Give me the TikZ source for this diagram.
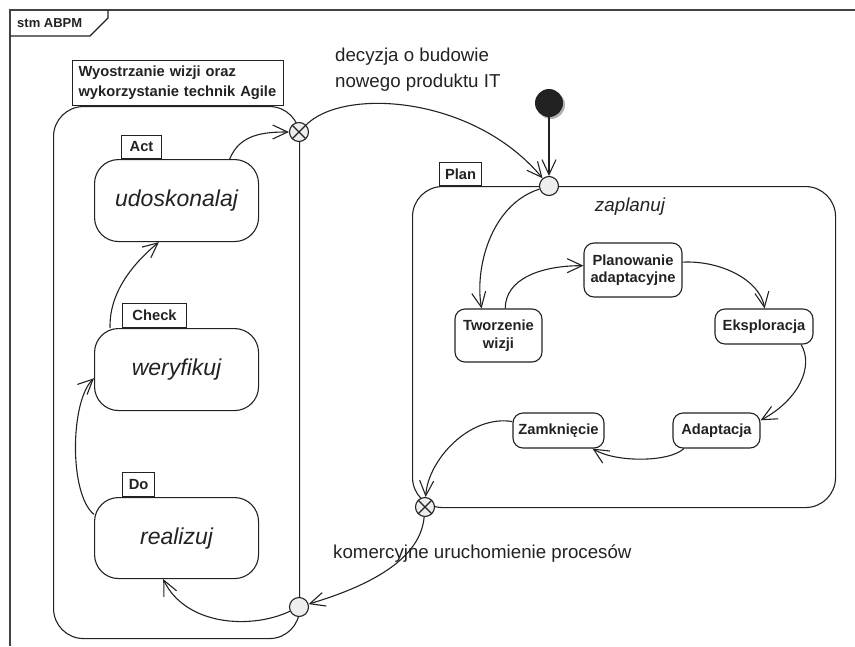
\documentclass[tikz,border=0pt]{standalone}
\usepackage{fontspec}
\setmainfont{Liberation Sans}
\usetikzlibrary{arrows.meta,shadows}
\definecolor{ink}{HTML}{222222}
\definecolor{pfill}{HTML}{EEEEEE}
\tikzset{
  lw/.style={draw=ink, line width=1.1pt},
  comp/.style={lw, rounded corners=30pt, inner sep=0pt, anchor=north west},
  bigstate/.style={lw, rounded corners=24pt, inner sep=0pt, anchor=north west, text=ink, font=\fontsize{23}{27}\selectfont\itshape},
  smstate/.style={lw, rounded corners=10pt, inner sep=0pt, align=center, text=ink, font=\fontsize{14.7}{17.5}\selectfont\bfseries},
  tabbox/.style={lw, anchor=south west, inner sep=0pt, text=ink, font=\fontsize{14.7}{17}\selectfont\bfseries},
  entrypt/.style={circle, lw, fill=pfill, minimum size=19pt, inner sep=0pt},
  exitpt/.style={entrypt, path picture={\draw[ink, line width=1.1pt] (path picture bounding box.north west) -- (path picture bounding box.south east) (path picture bounding box.north east) -- (path picture bounding box.south west);}},
  trans/.style={lw, -{Straight Barb[length=15pt,width=14pt]}},
  lbl/.style={text=ink, font=\fontsize{18.7}{26}\selectfont, inner sep=0pt, align=left},
}
\begin{document}
\begin{tikzpicture}[x=1pt,y=-1pt]
\useasboundingbox (0,0) rectangle (855,646);
% frame
\draw[draw=ink!85, line width=1.4pt] (10,646) -- (10,10) -- (855,10);
\draw[lw] (10,36) -- (90,36) -- (108,18) -- (108,10);
\node[anchor=west, text=ink, font=\fontsize{13}{15}\selectfont\bfseries, inner sep=0pt] (frametitle) at (17,23) {stm ABPM};
% left composite state
\node[comp, minimum width=246pt, minimum height=532pt] (wyo) at (53,106) {};
\node[tabbox, minimum width=211pt, minimum height=45pt, text width=199pt, align=left, inner xsep=6pt, font=\fontsize{14.7}{20}\selectfont\bfseries] (wyotab) at (72,106) {Wyostrzanie wizji oraz\\wykorzystanie technik Agile};
\node[bigstate, minimum width=164pt, minimum height=82pt] (act) at (94,159) {udoskonalaj};
\node[tabbox, minimum width=40pt, minimum height=23pt] (acttab) at (121,159) {Act};
\node[bigstate, minimum width=164pt, minimum height=82pt] (check) at (94,328) {weryfikuj};
\node[tabbox, minimum width=64pt, minimum height=24pt] (checktab) at (122,328) {Check};
\node[bigstate, minimum width=164pt, minimum height=81pt] (do) at (94,497) {realizuj};
\node[tabbox, minimum width=32pt, minimum height=24pt] (dotab) at (122,497) {Do};
% plan composite state
\node[comp, minimum width=423pt, minimum height=321pt] (plan) at (412,186) {};
\node[tabbox, minimum width=42pt, minimum height=23pt] (plantab) at (439,186) {Plan};
\node[text=ink, font=\fontsize{18.8}{22}\selectfont\itshape, inner sep=0pt] (zap) at (630,207) {zaplanuj};
\node[smstate, minimum width=87pt, minimum height=53pt] (tw) at (498.5,335.5) {Tworzenie\\wizji};
\node[smstate, minimum width=98pt, minimum height=54pt] (pl) at (633,270) {Planowanie\\adaptacyjne};
\node[smstate, minimum width=98pt, minimum height=35pt] (ek) at (764,326.5) {Eksploracja};
\node[smstate, minimum width=87pt, minimum height=35pt] (ad) at (716.5,430.5) {Adaptacja};
\node[smstate, minimum width=91pt, minimum height=35pt] (za) at (558.5,430.5) {Zamknięcie};
% pseudostates
\node[exitpt] (exA) at (299,132) {};
\node[entrypt] (enP) at (549,186) {};
\node[exitpt] (exP) at (425,507) {};
\node[entrypt] (enW) at (299,607) {};
\node[circle, fill=ink, minimum size=28pt, inner sep=0pt, drop shadow={shadow xshift=2pt, shadow yshift=-2pt, fill=black!30, opacity=1}] (init) at (549,103) {};
% labels
\node[lbl, anchor=west] (dec) at (335,70) {decyzja o budowie\\nowego produktu IT};
\node[lbl, anchor=west] (kom) at (333,554) {komercyjne uruchomienie procesów};
% transitions
\draw[trans] (act.38) .. controls +(10,-25) and +(-35,0) .. (exA);
\draw[trans] (exA) .. controls +(45,-45) and +(-75,-90) .. (enP);
\draw[trans] (init) -- (enP);
\draw[trans] (enP) .. controls +(-59,19) and +(-7,-39) .. (tw.122);
\draw[trans] (tw.76) .. controls +(0,-29) and +(-44,0) .. (pl.175);
\draw[trans] (pl.9) .. controls +(37,-2) and +(-5,-29) .. (ek.88);
\draw[trans] (ek.-26) .. controls +(13,21) and +(39,-21) .. (ad.13);
\draw[trans] (ad.209) .. controls +(-15,14) and +(23,14) .. (za.-28);
\draw[trans] (za.169) .. controls +(-43,-7) and +(3,-47) .. (exP);
\draw[trans] (exP) .. controls +(-5,58) and +(56,-17) .. (enW);
\draw[trans] (enW) .. controls +(-49,23) and +(22,46) .. (do.252);
\draw[trans] (do.164) .. controls +(-25,-20) and +(-24,23) .. (check.186);
\draw[trans] (check.148) .. controls +(-1,-33) and +(-29,24) .. (act.247);
\end{tikzpicture}
\end{document}
